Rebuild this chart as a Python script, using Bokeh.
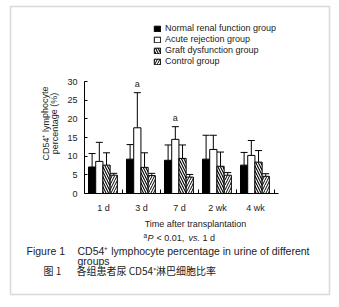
from bokeh.plotting import figure
from bokeh.models import (ColumnDataSource, Range1d, FixedTicker, Whisker, TeeHead,
                          Legend, LegendItem, Label, BoxAnnotation)
from bokeh.core.properties import value
from bokeh.embed import file_html
from bokeh.resources import INLINE

# ---- data ----
groups = ["1 d", "3 d", "7 d", "2 wk", "4 wk"]
series = ["Normal renal function group", "Acute rejection group",
          "Graft dysfunction group", "Control group"]
normal = [7.1, 9.2, 8.9, 9.2, 7.6]
normal_sd = [3.6, 3.9, 4.1, 6.4, 3.4]
acute = [8.6, 17.6, 14.5, 11.8, 10.2]
acute_sd = [5.1, 9.4, 3.4, 3.8, 4.0]
graft = [7.6, 7.0, 9.4, 7.3, 8.4]
graft_sd = [3.3, 3.9, 3.6, 3.8, 3.1]
control = [4.9, 4.8, 4.4, 4.9, 4.6]
control_sd = [0.5, 0.6, 0.7, 0.7, 0.7]
sig = ["", "a", "a", "", ""]
y_ticks = [0, 5, 10, 15, 20, 25, 30]

FONT = "Liberation Sans"
CJK = "Noto Sans CJK SC"
W, H = 334, 302
X0, Y0 = 84.0, 193.0          # pixel position of data origin
px_x = 38.0                   # px per group
px_y = 112.0 / 30.0           # px per percent

p = figure(width=W, height=H, output_backend="svg", toolbar_location=None,
           min_border_left=0, min_border_right=0, min_border_top=0,
           min_border_bottom=0,
           x_range=Range1d(-X0 / px_x, (W - X0) / px_x),
           y_range=Range1d(-(H - Y0) / px_y, Y0 / px_y))
p.outline_line_color = None
p.xgrid.visible = False
p.ygrid.visible = False
p.background_fill_color = "white"
p.border_fill_color = "white"

# axes, fixed inside the frame
xa = p.xaxis[0]
xa.fixed_location = 0
xa.ticker = FixedTicker(ticks=[i + 0.5 for i in range(len(groups))],
                        minor_ticks=[i + 1 for i in range(len(groups))])
xa.major_label_overrides = {i + 0.5: g for i, g in enumerate(groups)}
xa.major_tick_in = 0
xa.major_tick_out = 0
xa.minor_tick_in = 4
xa.minor_tick_out = 0
xa.bounds = (0, 5.1)
xa.major_label_standoff = 9
xa.major_label_text_font = FONT
xa.major_label_text_font_size = "9px"
xa.major_label_text_color = "#222222"
xa.axis_line_color = "black"
xa.minor_tick_line_color = "black"
xa.minor_tick_line_width = 1

ya = p.yaxis[0]
ya.fixed_location = 0
ya.ticker = FixedTicker(ticks=y_ticks, minor_ticks=[])
ya.major_tick_in = 3
ya.major_tick_out = 0
ya.bounds = (0, 30)
ya.major_label_standoff = 7
ya.major_label_text_font = FONT
ya.major_label_text_font_size = "9px"
ya.major_label_text_color = "#222222"
ya.axis_line_color = "black"
ya.major_tick_line_color = "black"

# bars with upper error bars
bw = 0.19
vals = [normal, acute, graft, control]
sds = [normal_sd, acute_sd, graft_sd, control_sd]
styles = [dict(fill_color="black"),
          dict(fill_color="white"),
          dict(fill_color="white", hatch_pattern="\\", hatch_scale=5,
               hatch_weight=1.1, hatch_color="black"),
          dict(fill_color="white", hatch_pattern="/", hatch_scale=5,
               hatch_weight=1.0, hatch_color="black")]
items = []
for k in range(4):
    xs = [i + 0.2 + k * bw for i in range(len(groups))]
    src = ColumnDataSource(dict(x=xs, top=vals[k],
                                up=[v + s for v, s in zip(vals[k], sds[k])]))
    w = Whisker(base="x", lower="top", upper="up", source=src,
                line_color="black", line_width=1, lower_head=None,
                upper_head=TeeHead(size=7, line_color="black", line_width=1))
    p.add_layout(w)
    r = p.vbar(x="x", top="top", width=bw, source=src, line_color="black",
               line_width=1, **styles[k])
    items.append(LegendItem(label=series[k], renderers=[r]))

# significance letters
sig_src = ColumnDataSource(dict(
    x=[i + 0.2 + 1 * bw for i in range(len(groups))],
    y=[v + s + 2.4 for v, s in zip(acute, acute_sd)],
    t=sig))
p.text(x="x", y="y", text="t", source=sig_src, text_align="center",
       text_baseline="middle", text_font=value(FONT), text_font_size="9px",
       text_color="#222222")

legend = Legend(items=items, location=(153, H - 66), margin=0, padding=0,
                spacing=1, glyph_width=8, glyph_height=7, label_height=7,
                label_standoff=4, label_text_font=FONT,
                label_text_font_size="9px", label_text_color="#222222",
                border_line_color=None, background_fill_alpha=0)
p.add_layout(legend, "center")

def lab(x, y, text, size="9px", font=FONT, style="normal", align="left", angle=0):
    # x, y: pixel position from the top-left corner
    p.add_layout(Label(x=x, y=H - y, x_units="screen", y_units="screen", text=text,
                       text_font=font, text_font_size=size, text_font_style=style,
                       text_align=align, text_baseline="middle", angle=angle,
                       text_color="#222222"))

# y axis title (two lines, rotated)
lab(45, 123, "CD54\u207a lymphocyte", align="center", angle=1.5708)
lab(54, 123, "percentage (%)", align="center", angle=1.5708)
# x axis title
lab(195, 223, "Time after transplantation", align="center")
# footnote
lab(143, 235, "a", size="6.5px")
lab(147, 237, "P", style="italic")
lab(156, 237, "< 0.01,")
lab(188, 237, "vs.", style="italic")
lab(202, 237, "1 d")
# caption
lab(26, 250, "Figure 1", size="10.5px")
lab(77, 250, "CD54\u207a lymphocyte percentage in urine of different", size="10.5px")
lab(77, 260.5, "groups", size="10.5px")
lab(43, 270, "图 1", size="10px", font=CJK)
lab(76, 270, "各组患者尿 CD54\u207a淋巴细胞比率", size="10px", font=CJK)

# box around the whole figure
p.add_layout(BoxAnnotation(left=10, right=329, top=H - 6, bottom=H - 294,
                           left_units="screen", right_units="screen",
                           top_units="screen", bottom_units="screen",
                           fill_color=None, fill_alpha=0,
                           line_color="#808080", line_width=1.5))

open("out.html", "w").write(file_html(p, INLINE))
